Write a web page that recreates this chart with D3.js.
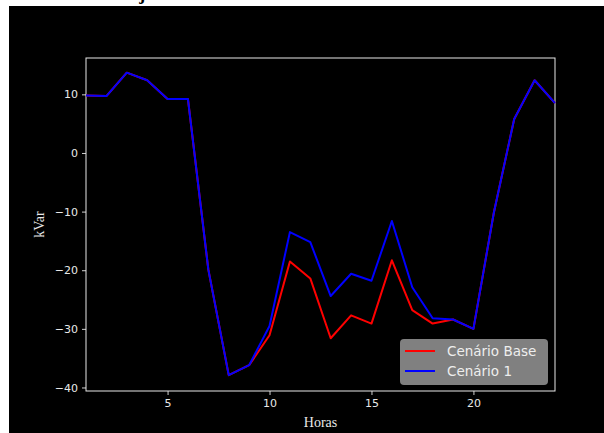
<!DOCTYPE html>
<html>
<head>
<meta charset="utf-8">
<script src="https://cdn.jsdelivr.net/npm/d3@7"></script>
<style>
  body { margin: 0; background: #fff; }
  svg { display: block; }
</style>
</head>
<body>
<div id="chart"></div>
<script>
// hours of the day
const hours = d3.range(1, 25);
// reactive power, kVar
const baseValues = [9.8, 9.7, 13.7, 12.4, 9.2, 9.2, -19.9, -37.9, -36.2, -31.1, -18.5, -21.4,
  -31.6, -27.7, -29.1, -18.3, -26.8, -29.1, -28.4, -30.0, -10.2, 5.8, 12.4, 8.5];
const cen1Values = [9.8, 9.7, 13.7, 12.4, 9.2, 9.2, -19.9, -37.9, -36.2, -29.5, -13.5, -15.2,
  -24.4, -20.6, -21.8, -11.6, -22.9, -28.2, -28.4, -30.0, -10.2, 5.8, 12.4, 8.5];
const seriesNames = ['Cenário Base', 'Cenário 1'];
const seriesColors = ['#ff0000', '#0000ff'];
const xTicks = [5, 10, 15, 20];
const yTicks = [10, 0, -10, -20, -30, -40];

const width = 604, height = 433;
const margin = {left: 86, right: 49, top: 58, bottom: 42};
const fg = '#e8e8e8';

const svg = d3.select('#chart').append('svg')
  .attr('width', width)
  .attr('height', height);

// title, mostly cut off above the frame
svg.append('text')
  .attr('x', 10).attr('y', 0)
  .attr('font-family', 'Liberation Serif')
  .attr('font-weight', 'bold')
  .attr('font-size', 18)
  .attr('fill', '#000')
  .text('Fluxo reativo de janeiro');

svg.append('rect')
  .attr('x', 9).attr('y', 6)
  .attr('width', width - 9).attr('height', height - 6)
  .attr('fill', '#000');

const x = d3.scaleLinear()
  .domain([1, 24])
  .range([margin.left, width - margin.right]);

const y = d3.scaleLinear()
  .domain([-40.6, 16.2])
  .range([height - margin.bottom, margin.top]);

// x axis
const gx = svg.append('g')
  .attr('transform', `translate(0,${height - margin.bottom})`)
  .call(d3.axisBottom(x).tickValues(xTicks).tickSize(4).tickPadding(4));

// y axis
const gy = svg.append('g')
  .attr('transform', `translate(${margin.left},0)`)
  .call(d3.axisLeft(y).tickValues(yTicks).tickSize(4).tickPadding(4)
    .tickFormat(d => d < 0 ? '\u2212' + Math.abs(d) : d));

[gx, gy].forEach(g => {
  g.attr('font-family', 'DejaVu Sans').attr('font-size', 11);
  g.select('.domain').remove();
  g.selectAll('line').attr('stroke', fg).attr('stroke-width', 0.9);
  g.selectAll('text').attr('fill', fg);
});

// frame
svg.append('rect')
  .attr('x', x(1)).attr('y', y(16.2))
  .attr('width', x(24) - x(1))
  .attr('height', y(-40.6) - y(16.2))
  .attr('fill', 'none')
  .attr('stroke', fg)
  .attr('stroke-width', 1);

// lines
const line = d3.line()
  .x((d, i) => x(hours[i]))
  .y(d => y(d));

[baseValues, cen1Values].forEach((vals, i) => {
  svg.append('path')
    .datum(vals)
    .attr('d', line)
    .attr('fill', 'none')
    .attr('stroke', seriesColors[i])
    .attr('stroke-width', 2)
    .attr('stroke-linejoin', 'round');
});

// axis labels
svg.append('text')
  .attr('x', x(12.5)).attr('y', 427)
  .attr('text-anchor', 'middle')
  .attr('font-family', 'Liberation Serif')
  .attr('font-size', 14)
  .attr('fill', fg)
  .text('Horas');

svg.append('text')
  .attr('transform', `translate(44,${y(-12.2)}) rotate(-90)`)
  .attr('text-anchor', 'middle')
  .attr('font-family', 'Liberation Serif')
  .attr('font-size', 14)
  .attr('fill', fg)
  .text('kVar');

// legend
const lg = svg.append('g').attr('transform', 'translate(400,339)');
lg.append('rect')
  .attr('width', 148).attr('height', 46)
  .attr('rx', 4)
  .attr('fill', '#808080');

seriesNames.forEach((name, i) => {
  const yy = 12 + i * 20;
  lg.append('line')
    .attr('x1', 5).attr('x2', 35)
    .attr('y1', yy).attr('y2', yy)
    .attr('stroke', seriesColors[i])
    .attr('stroke-width', 2);
  lg.append('text')
    .attr('x', 47).attr('y', yy + 5)
    .attr('font-family', 'DejaVu Sans')
    .attr('font-size', 13.5)
    .attr('fill', '#eeeeee')
    .text(name);
});
</script>
</body>
</html>
